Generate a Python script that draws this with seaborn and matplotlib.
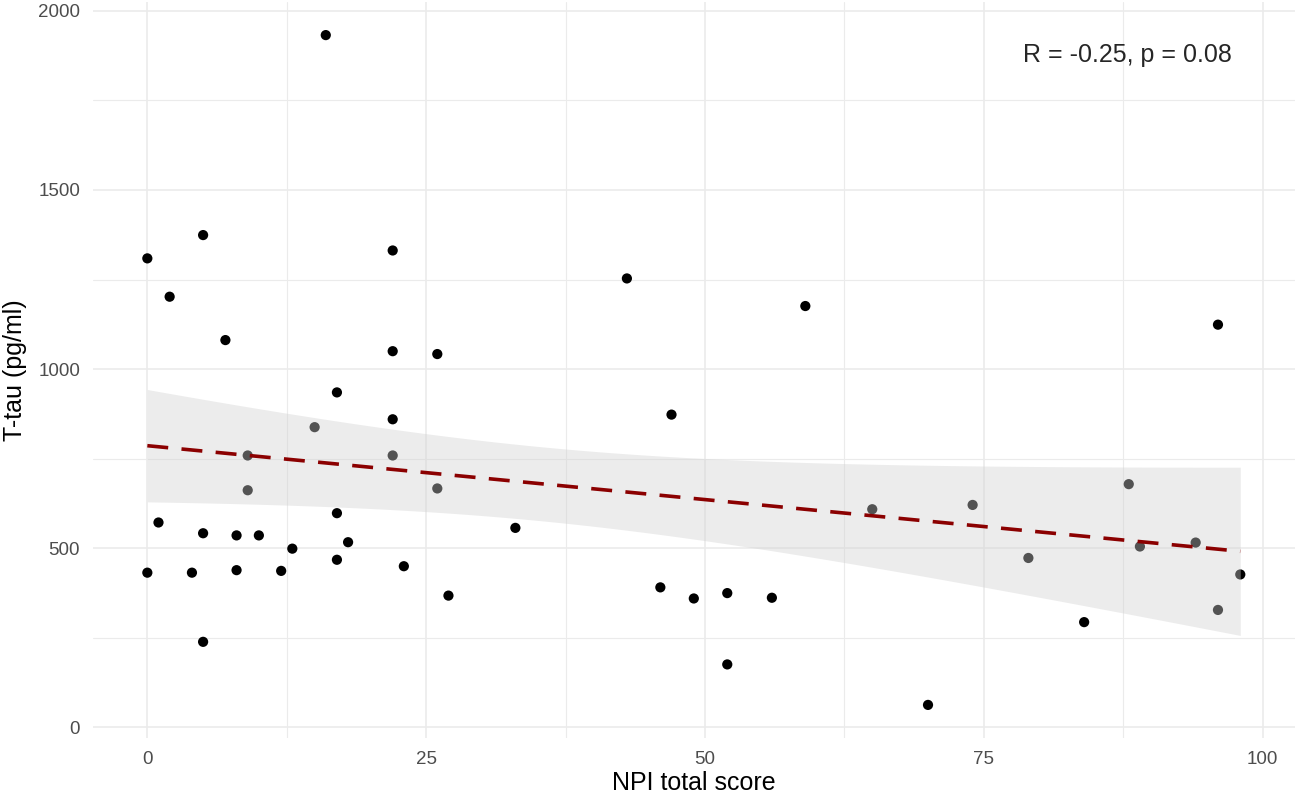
import seaborn as sns
import matplotlib.pyplot as plt
from matplotlib.ticker import MultipleLocator
import numpy as np
import pandas as pd

# NPI total score vs T-tau
npi = [0, 0, 1, 2, 4, 5, 5, 5, 7, 8, 8, 9, 9, 10, 12, 13, 15, 16, 17, 17,
       17, 18, 22, 22, 22, 22, 23, 26, 26, 27, 33, 43, 46, 47, 49, 52, 52, 56,
       59, 65, 70, 74, 79, 84, 88, 89, 94, 96, 96, 98]
ttau = [1309, 432, 572, 1202, 432, 1374, 542, 239, 1081, 536, 439, 759, 662, 536,
        437, 499, 838, 1932, 935, 598, 468, 517, 1331, 1050, 860, 759, 450, 1042,
        667, 368, 557, 1253, 391, 873, 360, 375, 176, 362, 1176, 609, 63, 621,
        473, 294, 679, 505, 516, 1124, 328, 427]

df = pd.DataFrame({'npi': npi, 'ttau': ttau})

# linear fit + 95% confidence band (t-based, like geom_smooth(method='lm'))
x = df['npi'].to_numpy(float)
y = df['ttau'].to_numpy(float)
n = len(x)
b1, b0 = np.polyfit(x, y, 1)
resid = y - (b0 + b1 * x)
s = np.sqrt((resid ** 2).sum() / (n - 2))
sxx = ((x - x.mean()) ** 2).sum()
t975 = 2.0106  # t quantile, df = 48
xg = np.linspace(x.min(), x.max(), 100)
yg = b0 + b1 * xg
se = s * np.sqrt(1 / n + (xg - x.mean()) ** 2 / sxx)

sns.set_theme(style='white')
plt.rcParams['font.family'] = ['Liberation Sans', 'DejaVu Sans']

fig = plt.figure(figsize=(13, 7.94), dpi=100)
ax = fig.add_axes([0.0713, 0.070, 0.9248, 0.928])

sns.scatterplot(data=df, x='npi', y='ttau', color='black', s=54,
                edgecolor='none', ax=ax, zorder=3)
ax.fill_between(xg, yg - t975 * se, yg + t975 * se, color='#d0d0d0',
                alpha=0.4, lw=0, zorder=4)
sns.regplot(data=df, x='npi', y='ttau', scatter=False, ci=None, ax=ax,
            line_kws={'color': '#8b0000', 'lw': 2.6, 'dashes': (5.8, 3.7), 'zorder': 5})

ax.set_xlim(-4.9, 102.9)
ax.set_ylim(-30.5, 2025.5)
ax.set_xticks([0, 25, 50, 75, 100])
ax.set_yticks([0, 500, 1000, 1500, 2000])
ax.xaxis.set_minor_locator(MultipleLocator(12.5))
ax.yaxis.set_minor_locator(MultipleLocator(250))
ax.grid(which='major', color='#ebebeb', lw=1.2)
ax.grid(which='minor', color='#ebebeb', lw=0.8)
ax.set_axisbelow(True)
for sp in ax.spines.values():
    sp.set_visible(False)
ax.tick_params(which='both', length=0, pad=9, labelsize=13.5, labelcolor='#4d4d4d')

ax.set_xlabel('NPI total score', fontsize=18, labelpad=2, color='black')
ax.set_ylabel('T-tau (pg/ml)', fontsize=18, labelpad=8, color='black')

ax.text(87.9, 1876, 'R = -0.25, p = 0.08', fontsize=18, ha='center', va='center')

fig.savefig('out.png', dpi=100)
